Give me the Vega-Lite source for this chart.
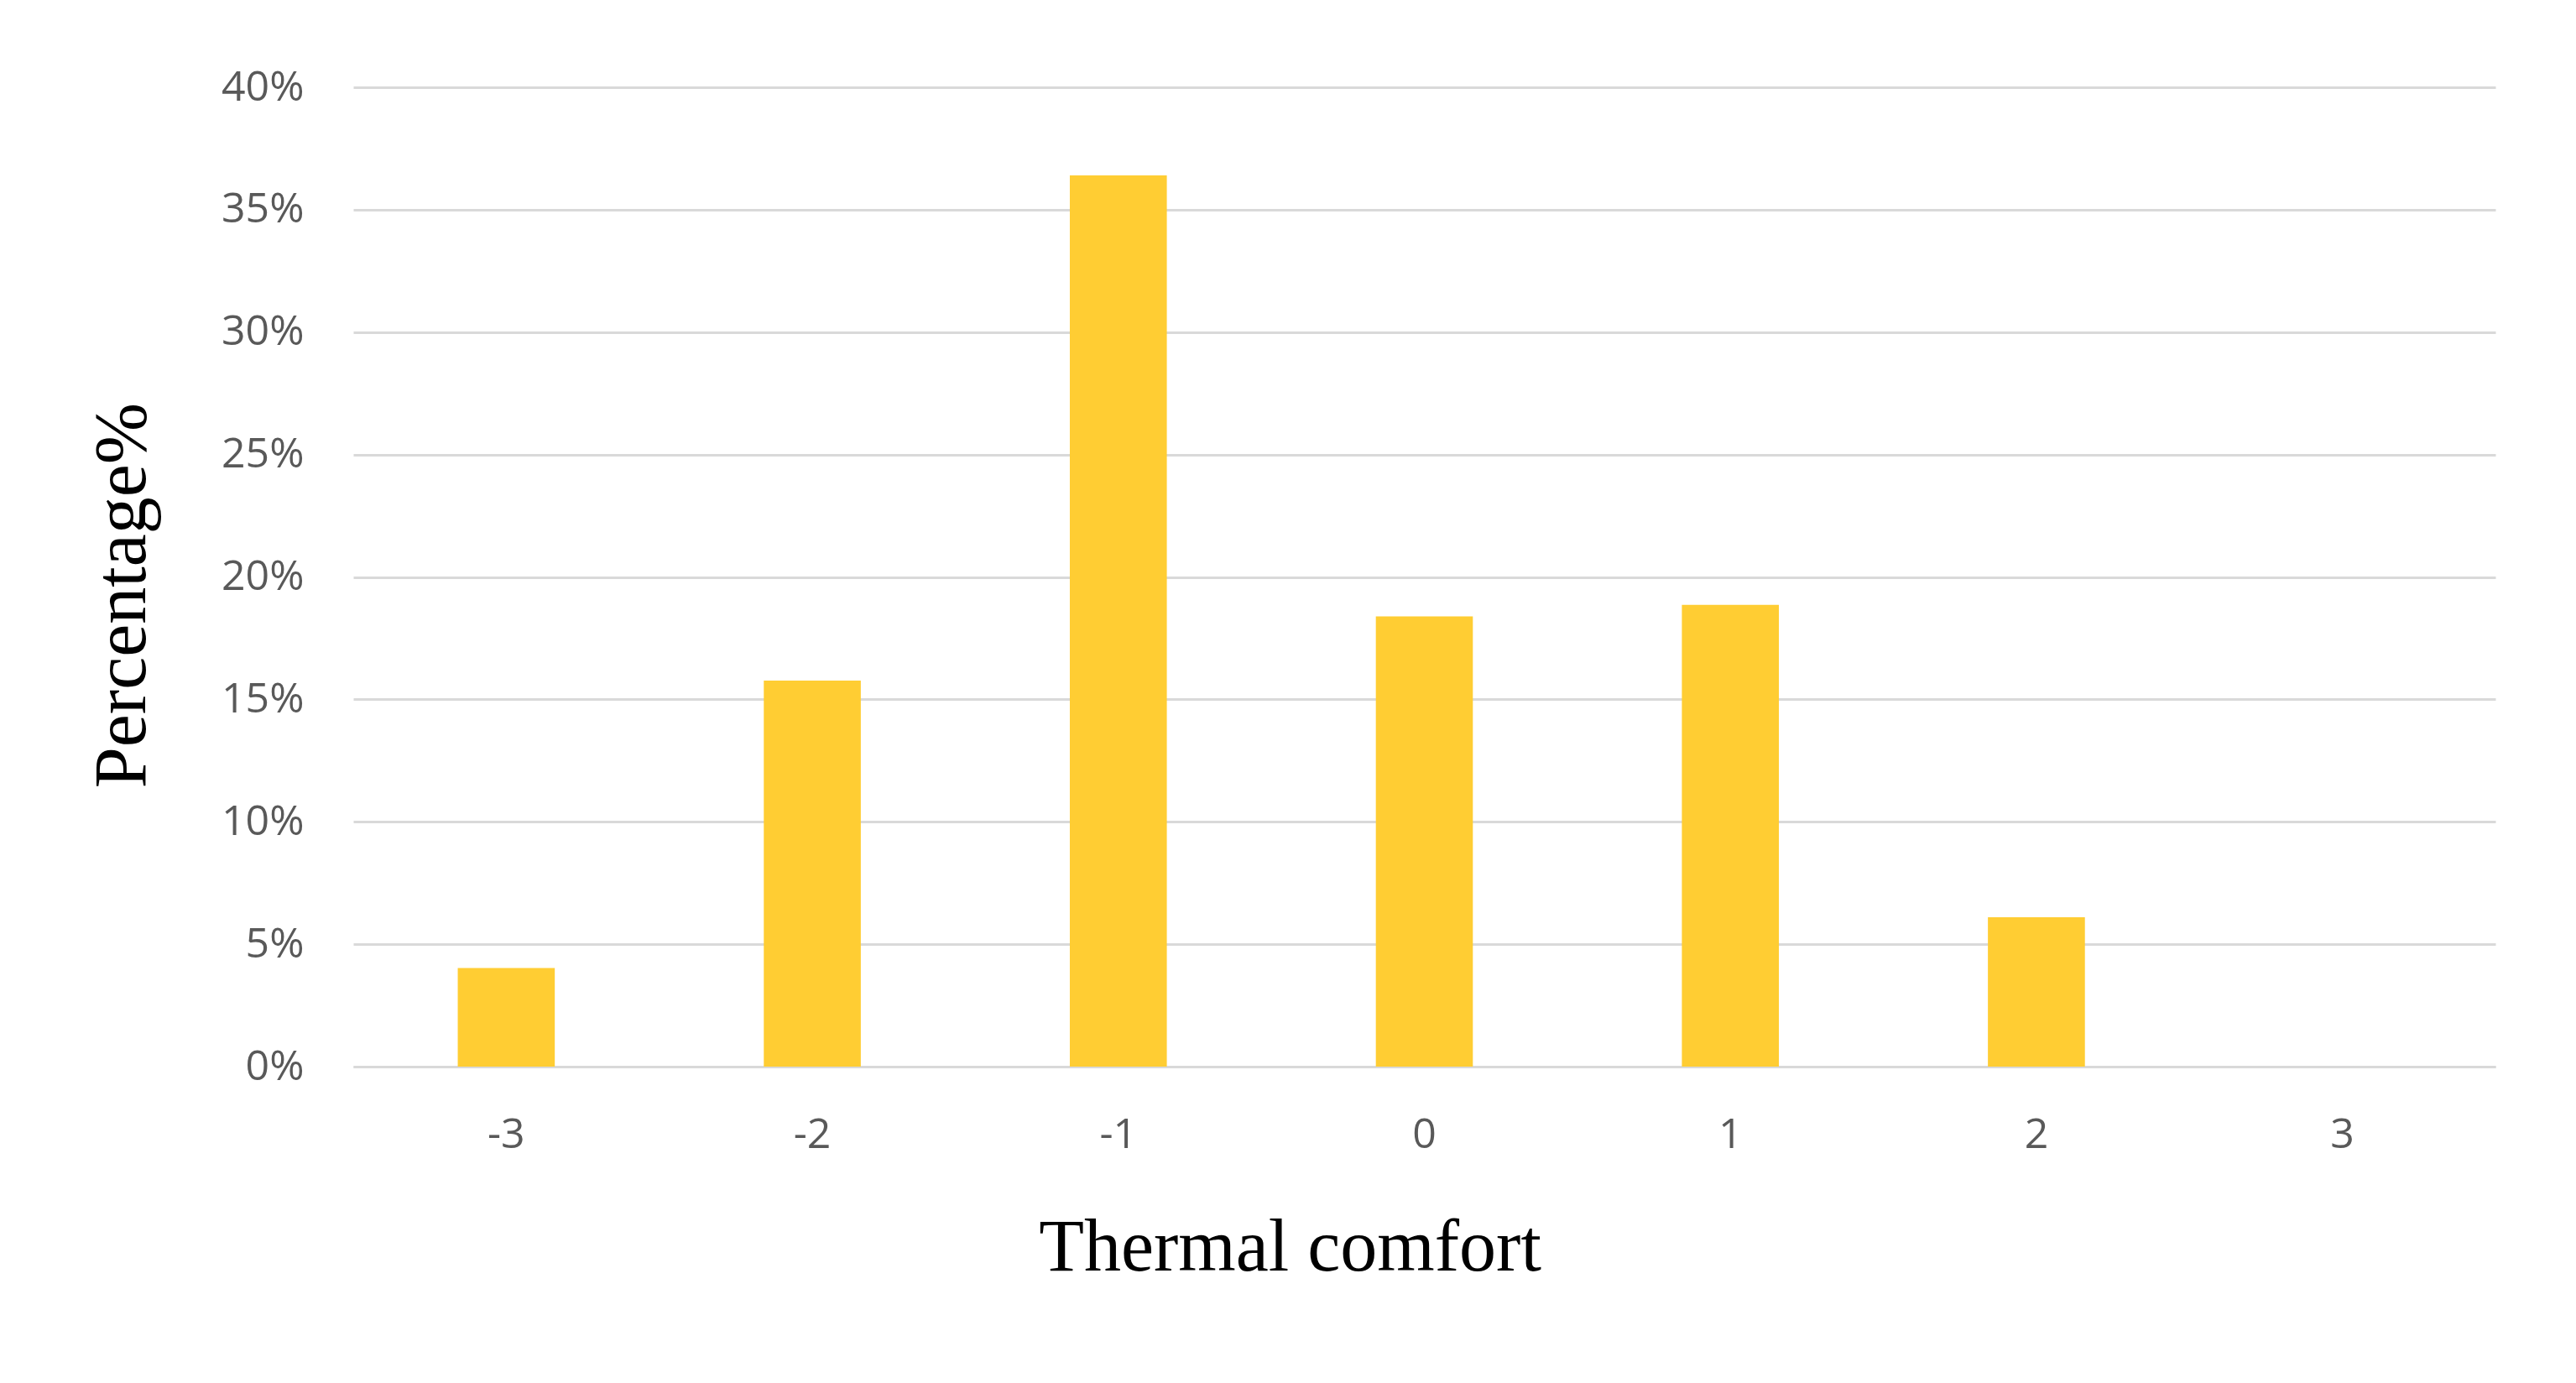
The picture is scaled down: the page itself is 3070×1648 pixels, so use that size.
{
  "$schema": "https://vega.github.io/schema/vega-lite/v6.json",
  "autosize": "none",
  "width": 2553,
  "height": 1167,
  "padding": {"left": 421, "top": 104, "right": 96, "bottom": 377},
  "background": "white",
  "config": {"view": {"stroke": null}},
  "data": {
    "values": [
      {"comfort": "-3", "pct": 0.0403},
      {"comfort": "-2", "pct": 0.1577},
      {"comfort": "-1", "pct": 0.364},
      {"comfort": "0", "pct": 0.1839},
      {"comfort": "1", "pct": 0.1886},
      {"comfort": "2", "pct": 0.061},
      {"comfort": "3", "pct": 0.0}
    ]
  },
  "mark": {"type": "bar", "color": "#FFCD33"},
  "encoding": {
    "x": {
      "field": "comfort",
      "type": "ordinal",
      "sort": ["-3", "-2", "-1", "0", "1", "2", "3"],
      "scale": {"paddingInner": 0.683, "paddingOuter": 0.3415},
      "axis": {
        "title": "Thermal comfort",
        "titleFont": "Liberation Serif",
        "titleFontSize": 88,
        "titleFontWeight": "normal",
        "titleColor": "#000000",
        "titleX": 1116,
        "titleY": 242,
        "titleAlign": "center",
        "titleBaseline": "alphabetic",
        "labelAngle": 0,
        "labelFont": "Open Sans",
        "labelFontSize": 50,
        "labelColor": "#595959",
        "labelPadding": 56,
        "ticks": false,
        "domain": true,
        "domainColor": "#d9d9d9",
        "domainWidth": 3,
        "grid": false
      }
    },
    "y": {
      "field": "pct",
      "type": "quantitative",
      "scale": {"domain": [0, 0.4], "nice": false},
      "axis": {
        "title": "Percentage%",
        "titleFont": "Liberation Serif",
        "titleFontSize": 88,
        "titleFontWeight": "normal",
        "titleColor": "#000000",
        "titleAngle": -90,
        "titleX": -249,
        "titleY": 605,
        "titleAlign": "center",
        "titleBaseline": "alphabetic",
        "values": [0, 0.05, 0.1, 0.15, 0.2, 0.25, 0.3, 0.35, 0.4],
        "format": ".0%",
        "labelFont": "Open Sans",
        "labelFontSize": 50,
        "labelColor": "#595959",
        "labelPadding": 59,
        "ticks": false,
        "domain": false,
        "grid": true,
        "gridColor": "#d9d9d9",
        "gridWidth": 3
      }
    }
  }
}
